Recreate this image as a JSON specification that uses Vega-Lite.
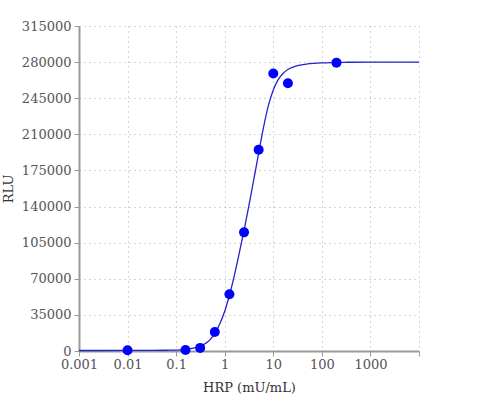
{
  "$schema": "https://vega.github.io/schema/vega-lite/v6.json",
  "width": 340,
  "height": 325,
  "padding": {"left": 2, "top": 20, "right": 5, "bottom": 5},
  "background": "white",
  "config": {
    "font": "DejaVu Serif",
    "view": {"stroke": null},
    "axis": {
      "labelFont": "DejaVu Serif",
      "titleFont": "DejaVu Serif",
      "labelFontSize": 13,
      "titleFontSize": 13,
      "labelColor": "#555555",
      "titleColor": "#333333",
      "titleFontWeight": "normal",
      "labelFlush": false,
      "domainColor": "#999999",
      "domainWidth": 2,
      "tickColor": "#999999",
      "tickSize": 5,
      "gridColor": "#aaaaaa",
      "gridDash": [1, 4],
      "gridWidth": 1
    }
  },
  "datasets": {
    "points": [
      {"hrp": 0.01, "rlu": 800},
      {"hrp": 0.156, "rlu": 900},
      {"hrp": 0.3125, "rlu": 3000},
      {"hrp": 0.625, "rlu": 18500},
      {"hrp": 1.25, "rlu": 55000},
      {"hrp": 2.5, "rlu": 115000},
      {"hrp": 5, "rlu": 195000},
      {"hrp": 10, "rlu": 269000},
      {"hrp": 20, "rlu": 259500},
      {"hrp": 200, "rlu": 279500}
    ],
    "curve": [
      {"hrp": 0.001, "rlu": 500},
      {"hrp": 0.01, "rlu": 520},
      {"hrp": 0.03, "rlu": 600},
      {"hrp": 0.063, "rlu": 750},
      {"hrp": 0.1, "rlu": 900},
      {"hrp": 0.126, "rlu": 1100},
      {"hrp": 0.158, "rlu": 1500},
      {"hrp": 0.2, "rlu": 2200},
      {"hrp": 0.251, "rlu": 3200},
      {"hrp": 0.316, "rlu": 4600},
      {"hrp": 0.398, "rlu": 7200},
      {"hrp": 0.501, "rlu": 11000},
      {"hrp": 0.631, "rlu": 17500},
      {"hrp": 0.794, "rlu": 26500},
      {"hrp": 1, "rlu": 38500},
      {"hrp": 1.259, "rlu": 54500},
      {"hrp": 1.585, "rlu": 73500},
      {"hrp": 1.995, "rlu": 95000},
      {"hrp": 2.512, "rlu": 117500},
      {"hrp": 3.162, "rlu": 141500},
      {"hrp": 3.981, "rlu": 166500},
      {"hrp": 5.012, "rlu": 192000},
      {"hrp": 6.31, "rlu": 217000},
      {"hrp": 7.943, "rlu": 238000},
      {"hrp": 10, "rlu": 253000},
      {"hrp": 12.59, "rlu": 263000},
      {"hrp": 15.85, "rlu": 269000},
      {"hrp": 19.95, "rlu": 272800},
      {"hrp": 25.12, "rlu": 275000},
      {"hrp": 31.62, "rlu": 276500},
      {"hrp": 50.12, "rlu": 278200},
      {"hrp": 100, "rlu": 279300},
      {"hrp": 316.2, "rlu": 279850},
      {"hrp": 1000, "rlu": 280000},
      {"hrp": 10000, "rlu": 280000}
    ]
  },
  "encoding": {
    "x": {
      "field": "hrp",
      "type": "quantitative",
      "scale": {"type": "log", "domain": [0.001, 10000], "nice": false},
      "axis": {
        "title": "HRP (mU/mL)",
        "values": [0.001, 0.01, 0.1, 1, 10, 100, 1000, 10000],
        "labelExpr": "datum.value >= 10000 ? '' : (datum.value < 1 ? format(datum.value, '~g') : format(datum.value, 'd'))",
        "labelOverlap": false,
        "labelPadding": 2,
        "titlePadding": 10
      }
    },
    "y": {
      "field": "rlu",
      "type": "quantitative",
      "scale": {"domain": [0, 315000], "nice": false},
      "axis": {
        "title": "RLU",
        "values": [0, 35000, 70000, 105000, 140000, 175000, 210000, 245000, 280000, 315000],
        "format": "d",
        "labelPadding": 3,
        "titlePadding": 6
      }
    }
  },
  "layer": [
    {
      "data": {"name": "curve"},
      "mark": {"type": "line", "color": "#2323c8", "strokeWidth": 1.3, "interpolate": "monotone"}
    },
    {
      "data": {"name": "points"},
      "mark": {"type": "circle", "color": "#0000ff", "opacity": 1, "size": 100}
    }
  ]
}
